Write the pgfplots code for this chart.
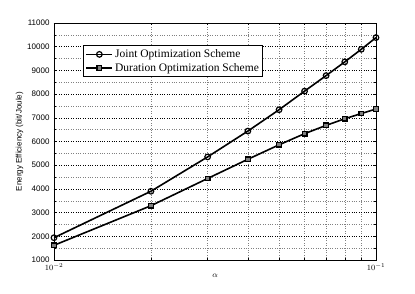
\documentclass[border=0pt]{standalone}
\usepackage{pgfplots}
\pgfplotsset{compat=1.18}
\usepackage{fontspec}
\setmainfont{Liberation Sans}
\newfontfamily\legfont{Liberation Serif}
\begin{document}
\begin{tikzpicture}[x=1pt,y=1pt]
\path[use as bounding box] (-54,-33) rectangle (361,260);
\begin{axis}[
  scale only axis,
  width=322pt, height=237pt,
  at={(0,0)}, anchor=south west,
  xmode=log,
  xmin=0.01, xmax=0.1,
  ymin=1000, ymax=11000,
  ytick={1000,2000,...,11000},
  minor ytick={1500,2500,...,10500},
  scaled y ticks=false,
  grid=both,
  major grid style={dotted, black, line width=0.5pt},
  minor grid style={dotted, gray, line width=0.4pt},
  tick align=inside,
  tick style={black, line width=0.5pt},
  major tick length=3pt, minor tick length=1.8pt,
  axis line style={black, line width=0.6pt},
  tick label style={font=\fontsize{8}{9}\selectfont},
  /pgf/number format/assume math mode=true,
  yticklabel style={/pgf/number format/fixed, /pgf/number format/1000 sep={}, xshift=-1pt},
  xlabel={\fontsize{8.5}{9}\selectfont $\alpha$},
  ylabel={\fontsize{8}{9}\selectfont Energy Efficiency (bit/Joule)},
  xlabel style={yshift=3pt},
  ylabel style={yshift=-3pt},
  legend style={at={(0.09,0.907)}, anchor=north west, draw=black, line width=1.2pt,
    font=\legfont\fontsize{11.5}{13}\selectfont, inner sep=2pt, row sep=0pt,
    cells={anchor=west}},
  legend cell align=left,
  legend image code/.code={
    \draw[#1, mark repeat=2, mark phase=2] plot coordinates {(0pt,0pt) (13pt,0pt) (26pt,0pt)};
  },
]
\addplot[black, line width=1.6pt, mark=o, mark size=2.8pt, mark options={line width=1.2pt}] coordinates {
(0.01,1940) (0.02,3900) (0.03,5350) (0.04,6440) (0.05,7340) (0.06,8125) (0.07,8780) (0.08,9360) (0.09,9890) (0.1,10385)
};
\addlegendentry{Joint Optimization Scheme}
\addplot[black, line width=1.6pt, mark=square*, mark size=2.3pt, mark options={line width=1.3pt, fill=gray}] coordinates {
(0.01,1620) (0.02,3290) (0.03,4440) (0.04,5250) (0.05,5860) (0.06,6330) (0.07,6680) (0.08,6960) (0.09,7180) (0.1,7370)
};
\addlegendentry{Duration Optimization Scheme}
\end{axis}
\end{tikzpicture}
\end{document}
